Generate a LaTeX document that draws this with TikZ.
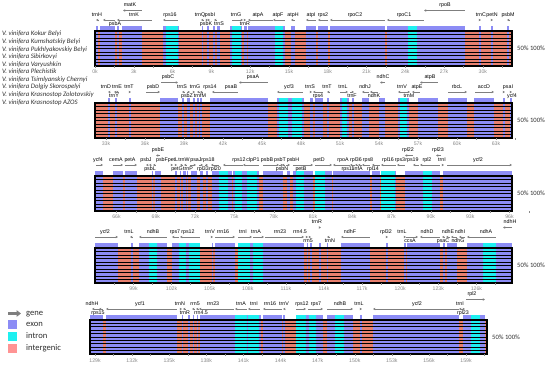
\documentclass[tikz,border=0pt]{standalone}
\usepackage{fontspec}
\setmainfont{Liberation Sans}
\newfontfamily\vistafont{Carlito}
\usetikzlibrary{arrows.meta}
\definecolor{VistaExon}{HTML}{8C8CF5}
\definecolor{VistaIntron}{HTML}{1EF0F0}
\definecolor{VistaGap}{HTML}{E8806E}
\definecolor{VistaGapLight}{HTML}{FF9494}
\definecolor{VistaArrow}{HTML}{7F7F7F}
\definecolor{VistaAxis}{HTML}{8A8A8A}
\definecolor{VistaText}{HTML}{303030}

\begin{document}
\begin{tikzpicture}[x=1pt,y=-1pt,
    genearrow/.style={draw=VistaArrow,line width=0.9pt},
    gfwd/.style={-{Latex[length=2.2pt,width=2.8pt]}},
    grev/.style={{Latex[length=2.2pt,width=2.8pt]}-},
    genelabel/.style={inner sep=0pt,font=\fontsize{5.3}{5.5}\selectfont},
    axislabel/.style={inner sep=0pt,text=VistaAxis,font=\fontsize{5.2}{5.5}\selectfont},
    axistick/.style={draw=VistaAxis,line width=0.4pt},
    rowline/.style={draw=black,line width=0.9pt},
    panelframe/.style={draw=black,line width=1.1pt},
    pctlabel/.style={anchor=west,inner sep=0pt,text=VistaText,font=\vistafont\fontsize{6.6}{7}\selectfont},
    variety/.style={anchor=west,inner sep=0pt,text=VistaText,font=\vistafont\itshape\fontsize{6.8}{7.5}\selectfont},
    legendtext/.style={anchor=west,inner sep=0pt,text=VistaText,font=\vistafont\fontsize{8.6}{9}\selectfont}]
  \useasboundingbox[fill=white] (0,0) rectangle (550,367);

  % cultivar names
  \foreach \g [count=\n] in {Kokur Belyi,Kumshatskiy Belyi,Pukhlyakovskiy Belyi,Sibirkovyi,Varyushkin,Plechistik,Tsimlyanskiy Chernyi,Dolgiy Skorospelyi,Krasnostop Zolotovskiy,Krasnostop AZOS}
    \node[variety] (var\n) at (2,{34+7.6*(\n-1)}) {V. vinifera \g};

  % panel 1
  \begin{scope}[shift={(0,31)}]
    \fill[VistaGap] (95,0) rectangle (512,35);
    \foreach \xa/\xb/\col in {96/97.5/VistaExon,100/115/VistaExon,117.3/118.5/VistaExon,121.7/141.7/VistaExon,163.3/166/VistaExon,166/177.7/VistaIntron,177.7/178.5/VistaExon,201.7/203.3/VistaExon,206.7/209/VistaExon,213.3/215/VistaExon,216.7/220/VistaExon,230/232.3/VistaExon,232.3/240.7/VistaIntron,240.7/242.3/VistaExon,244/246.7/VistaExon,248.3/275/VistaExon,275/283/VistaIntron,283/285/VistaExon,291/295/VistaExon,306/316/VistaExon,318/328/VistaExon,330/385/VistaExon,387/408/VistaExon,408/417/VistaIntron,417/465/VistaExon,479/481/VistaExon,491/493/VistaExon,507/509/VistaExon} {
      \fill[\col] (\xa,0) rectangle (\xb,35);
      \fill[\col] (\xa,-5) rectangle (\xb,0);
    }
    \foreach \r in {1,...,9} \draw[rowline] (95,3.5*\r) -- (512,3.5*\r);
    \draw[panelframe] (95,0) rectangle (512,35);
    \foreach \xa/\xb/\dir/\row/\lx/\name [count=\n] in {96/98/grev/1/97/trnH,103/115/grev/2/115/psbA,123/142/grev/0/130/matK,117/152/grev/1/134/trnK,163/178/grev/1/170/rps16,201/203/grev/1/200/trnQ,206/208/gfwd/2/206/psbK,208/210/gfwd/1/210/psbI,214/216/grev/2/219/trnS,232/243/gfwd/1/236/trnG,244/246/gfwd/2/245/trnR,248/273/grev/1/258/atpA,273/285/grev/1/278/atpF,291/295/grev/1/293/atpH,306/316/grev/1/311/atpI,318/328/grev/1/323/rps2,330/385/grev/1/355/rpoC2,387/424/grev/1/404/rpoC1,424/465/grev/0/445/rpoB,479/481/gfwd/1/481/trnC,491/493/gfwd/1/492/petN,507/509/grev/1/508/psbM} {
      \pgfmathsetmacro\ya{\row==0 ? -20.5 : -11}
      \pgfmathsetmacro\yl{\row==0 ? -26 : (\row==1 ? -16 : -7)}
      \draw[genearrow,\dir] (\xa,\ya) -- (\xb,\ya);
      \node[genelabel] (p1g\n) at (\lx,\yl) {\name};
    }
    \foreach \k in {0,1.5,...,31.5} \draw[axistick] ({95+12.93*\k},35) -- ({95+12.93*\k},37);
    \foreach \k [count=\n] in {0,3,...,30} \node[axislabel] (p1x\n) at ({95+12.93*\k},41) {\k k};
    \node[pctlabel] (p1pct) at (517,17.5) {50\% 100\%};
  \end{scope}

  % panel 2
  \begin{scope}[shift={(0,103)}]
    \fill[VistaGap] (95,0) rectangle (512,35);
    \foreach \xa/\xb/\col in {108/110/VistaExon,115/117.3/VistaExon,129/131/VistaExon,160/178/VistaExon,182/183.5/VistaExon,187/190/VistaExon,193/195/VistaExon,197/198.5/VistaExon,200/202/VistaExon,210/268/VistaExon,277/279/VistaExon,279/288/VistaIntron,288/292/VistaExon,292/302/VistaIntron,302/303.5/VistaExon,310/313/VistaExon,315/323/VistaExon,327/328.5/VistaExon,340/342/VistaExon,342/347/VistaIntron,347/348.5/VistaExon,352/354/VistaExon,362/369/VistaExon,379/385/VistaExon,398/400/VistaExon,400/407/VistaIntron,407/408.5/VistaExon,418/438/VistaExon,448/467/VistaExon,474/494/VistaExon,503/505/VistaExon,510/512/VistaExon} {
      \fill[\col] (\xa,0) rectangle (\xb,35);
      \fill[\col] (\xa,-5) rectangle (\xb,0);
    }
    \foreach \r in {1,...,9} \draw[rowline] (95,3.5*\r) -- (512,3.5*\r);
    \draw[panelframe] (95,0) rectangle (512,35);
    \foreach \xa/\xb/\dir/\row/\lx/\name [count=\n] in {108/110/grev/1/106/trnD,114/116/grev/2/114/trnY,116/118/grev/1/117/trnE,129/131/gfwd/1/129/trnT,146/160/gfwd/1/153/psbD,161/178/gfwd/0/168/psbC,182/184/grev/1/182/trnS,187/190/gfwd/2/187/psbZ,193/195/gfwd/1/195/trnG,197/199/grev/2/200/trnfM,200/203/grev/1/210/rps14,212/238/grev/1/231/psaB,239/268/grev/0/253/psaA,277/303/grev/1/289/ycf3,310/312/gfwd/1/310/trnS,313/323/grev/2/318/rps4,327/329/grev/1/327/trnT,340/348/gfwd/1/343/trnL,350/354/gfwd/2/352/trnF,362/369/grev/1/365/ndhJ,370/378/grev/2/374/ndhK,380/385/grev/0/383/ndhC,398/408/grev/1/402/trnV,407/410/gfwd/2/409/trnM,412/420/grev/1/417/atpE,420/438/grev/0/430/atpB,448/467/gfwd/1/457/rbcL,475/494/gfwd/1/484/accD,503/505/gfwd/1/508/psaI,510/512/gfwd/2/512/ycf4} {
      \pgfmathsetmacro\ya{\row==0 ? -20.5 : -11}
      \pgfmathsetmacro\yl{\row==0 ? -26 : (\row==1 ? -16 : -7)}
      \draw[genearrow,\dir] (\xa,\ya) -- (\xb,\ya);
      \node[genelabel] (p2g\n) at (\lx,\yl) {\name};
    }
    \foreach \k in {33,34.5,...,64.5} \draw[axistick] ({106+13*(\k-33)},35) -- ({106+13*(\k-33)},37);
    \foreach \k [count=\n] in {33,36,...,63} \node[axislabel] (p2x\n) at ({106+13*(\k-33)},41) {\k k};
    \node[pctlabel] (p2pct) at (517,17.5) {50\% 100\%};
  \end{scope}

  % panel 3
  \begin{scope}[shift={(0,176)}]
    \fill[VistaGap] (95,0) rectangle (512,35);
    \foreach \xa/\xb/\col in {95/103.3/VistaExon,112.7/122.7/VistaExon,125/137.3/VistaExon,151.7/153.3/VistaExon,155/161/VistaExon,175/176.7/VistaExon,180/181/VistaExon,183.3/186/VistaExon,187.3/188.3/VistaExon,190.7/196.7/VistaExon,200/203.3/VistaExon,206/208.3/VistaExon,211.7/219.3/VistaExon,219.3/228.3/VistaIntron,228.3/231.7/VistaExon,233.3/235/VistaExon,235/242.3/VistaIntron,242.3/246.7/VistaExon,246.7/256.7/VistaIntron,256.7/259/VistaExon,262.7/283.3/VistaExon,286.7/290/VistaExon,293.3/296/VistaExon,296/304/VistaIntron,304/313.3/VistaExon,315/325/VistaIntron,325/331.7/VistaExon,333.3/370/VistaExon,371.7/380/VistaExon,381/395/VistaIntron,395/396/VistaExon,405/423.3/VistaExon,423.3/431.7/VistaIntron,431.7/440/VistaExon,443.3/512/VistaExon} {
      \fill[\col] (\xa,0) rectangle (\xb,35);
      \fill[\col] (\xa,-5) rectangle (\xb,0);
    }
    \foreach \r in {1,...,9} \draw[rowline] (95,3.5*\r) -- (512,3.5*\r);
    \draw[panelframe] (95,0) rectangle (512,35);
    \foreach \xa/\xb/\dir/\row/\lx/\name [count=\n] in {96/103/gfwd/1/98/ycf4,113/123/gfwd/1/116/cemA,125/137/gfwd/1/130/petA,146/148/grev/1/146/psbJ,149/151/grev/2/150/psbL,153/155/grev/1/162/psbF,156/160/grev/0/158/psbE,171/173/gfwd/1/173/petL,175/177/gfwd/2/177/petG,180/182/grev/1/184/trnW,184/186/grev/2/188/trnP,190/196/gfwd/1/196/psaJ,199/203/gfwd/2/203/rpl33,205/208/gfwd/1/208/rps18,211/219/grev/2/215/rpl20,223/243/grev/1/239/rps12,243/259/grev/1/253/clpP1,263/279/gfwd/1/267/psbB,279/283/gfwd/1/280/psbT,282/284/grev/2/282/psbN,286/290/gfwd/1/293/psbH,293/313/gfwd/2/301/petB,315/332/gfwd/1/319/petD,333/350/grev/1/343/rpoA,350/355/grev/2/348/rps11,355/358/grev/1/356/rpl36,358/362/grev/2/358/infA,362/370/grev/1/368/rps8,372/380/grev/2/373/rpl14,381/396/grev/1/388/rpl16,397/405/grev/1/400/rps3,405/413/grev/0/408/rpl22,413/419/grev/1/412/rps19,420/440/grev/1/427/rpl2,436/441/grev/0/438/rpl23,442/444/gfwd/1/442/trnI,447/512/gfwd/1/478/ycf2} {
      \pgfmathsetmacro\ya{\row==0 ? -20.5 : -11}
      \pgfmathsetmacro\yl{\row==0 ? -26 : (\row==1 ? -16 : -7)}
      \draw[genearrow,\dir] (\xa,\ya) -- (\xb,\ya);
      \node[genelabel] (p3g\n) at (\lx,\yl) {\name};
    }
    \foreach \k in {66,67.5,...,97.5} \draw[axistick] ({116.5+13.1*(\k-66)},35) -- ({116.5+13.1*(\k-66)},37);
    \foreach \k [count=\n] in {66,69,...,96} \node[axislabel] (p3x\n) at ({116.5+13.1*(\k-66)},41) {\k k};
    \node[pctlabel] (p3pct) at (517,17.5) {50\% 100\%};
  \end{scope}

  % panel 4
  \begin{scope}[shift={(0,248)}]
    \fill[VistaGap] (95,0) rectangle (512,35);
    \foreach \xa/\xb/\col in {95/118.3/VistaExon,130.7/132.7/VistaExon,139.3/149.3/VistaExon,149.3/157.3/VistaIntron,157.3/167.3/VistaExon,171.7/179.3/VistaExon,179.3/186/VistaIntron,186/189.3/VistaExon,189.3/200/VistaIntron,211.7/213.3/VistaExon,215/235/VistaExon,238.3/250/VistaIntron,250/252.7/VistaExon,252.7/263.3/VistaIntron,263.3/304/VistaExon,306.7/308.3/VistaExon,310/311.7/VistaExon,319.3/320.7/VistaExon,326.7/328/VistaExon,340.7/370/VistaExon,386/388.3/VistaExon,404/406/VistaExon,407.3/420/VistaExon,420/440/VistaExon,442.7/445/VistaExon,446.7/456.7/VistaExon,466.7/483.3/VistaExon,483.3/496/VistaIntron,496/512/VistaExon} {
      \fill[\col] (\xa,0) rectangle (\xb,35);
      \fill[\col] (\xa,-5) rectangle (\xb,0);
    }
    \foreach \r in {1,...,9} \draw[rowline] (95,3.5*\r) -- (512,3.5*\r);
    \draw[panelframe] (95,0) rectangle (512,35);
    \foreach \xa/\xb/\dir/\row/\lx/\name [count=\n] in {95/118/gfwd/1/105/ycf2,130/133/grev/1/129/trnL,139/167/grev/1/153/ndhB,172/179/grev/1/175/rps7,180/200/grev/1/188/rps12,211/213/gfwd/1/210/trnV,215/235/gfwd/1/223/rrn16,238/252/gfwd/1/243/trnI,253/264/gfwd/1/256/trnA,265/304/gfwd/1/280/rrn23,306/308/gfwd/1/300/rrn4.5,309/311/gfwd/2/308/rrn5,319/321/gfwd/0/317/trnR,327/329/grev/2/330/trnN,341/370/grev/1/350/ndhF,386/388/gfwd/1/386/rpl32,404/406/gfwd/1/402/trnL,406/418/gfwd/2/410/ccsA,420/440/grev/1/427/ndhD,442/445/grev/2/443/psaC,446/450/grev/1/448/ndhE,451/457/grev/2/458/ndhG,459/465/grev/1/460/ndhI,467/496/grev/1/486/ndhA,503/512/grev/0/510/ndhH} {
      \pgfmathsetmacro\ya{\row==0 ? -20.5 : -11}
      \pgfmathsetmacro\yl{\row==0 ? -26 : (\row==1 ? -16 : -7)}
      \draw[genearrow,\dir] (\xa,\ya) -- (\xb,\ya);
      \node[genelabel] (p4g\n) at (\lx,\yl) {\name};
    }
    \foreach \k in {97.5,99,...,127.5} \draw[axistick] ({133.5+12.7*(\k-99)},35) -- ({133.5+12.7*(\k-99)},37);
    \foreach \k [count=\n] in {99,102,...,126} \node[axislabel] (p4x\n) at ({133.5+12.7*(\k-99)},41) {\k k};
    \node[pctlabel] (p4pct) at (517,17.5) {50\% 100\%};
  \end{scope}

  % panel 5
  \begin{scope}[shift={(0,320)}]
    \fill[VistaGap] (90,0) rectangle (487,34);
    \foreach \xa/\xb/\col in {90/103/VistaExon,106/177/VistaExon,181.7/182.7/VistaExon,188.3/190/VistaExon,192.7/194/VistaExon,196.7/198.3/VistaExon,200/235/VistaExon,235/247/VistaIntron,247/248.3/VistaExon,248.3/259.3/VistaIntron,259.3/260.7/VistaExon,263.3/281.7/VistaExon,283.3/285/VistaExon,296/306/VistaIntron,306/309.3/VistaExon,309.3/316/VistaIntron,316/322.7/VistaExon,326.7/335/VistaExon,335/344/VistaIntron,344/353.3/VistaExon,360/361.7/VistaExon,373.3/459.3/VistaExon,463/470.7/VistaExon,470.7/480/VistaIntron,480/485/VistaExon} {
      \fill[\col] (\xa,0) rectangle (\xb,34);
      \fill[\col] (\xa,-5) rectangle (\xb,0);
    }
    \foreach \r in {1,...,9} \draw[rowline] (90,3.4*\r) -- (487,3.4*\r);
    \draw[panelframe] (90,0) rectangle (487,34);
    \foreach \xa/\xb/\dir/\row/\lx/\name [count=\n] in {92/102/grev/1/92/ndhH,99/103/grev/2/98/rps15,106/177/grev/1/140/ycf1,180/182/gfwd/1/180/trnN,183/185/grev/2/185/trnR,192/195/grev/1/195/rrn5,196/198/grev/2/201/rrn4.5,199/234/grev/1/213/rrn23,235/247/grev/1/241/trnA,248/260/grev/1/254/trnI,263/282/grev/1/270/rrn16,283/285/grev/1/284/trnV,296/306/gfwd/1/302/rps12,308/323/gfwd/1/316/rps7,327/353/gfwd/1/340/ndhB,360/362/gfwd/1/359/trnL,373/459/grev/1/417/ycf2,459/462/grev/1/460/trnI,462/465/gfwd/2/463/rpl23,466/485/gfwd/0/472/rpl2} {
      \pgfmathsetmacro\ya{\row==0 ? -20.5 : -11}
      \pgfmathsetmacro\yl{\row==0 ? -26 : (\row==1 ? -16 : -7)}
      \draw[genearrow,\dir] (\xa,\ya) -- (\xb,\ya);
      \node[genelabel] (p5g\n) at (\lx,\yl) {\name};
    }
    \foreach \k in {129,130.5,...,160.5} \draw[axistick] ({95+12.37*(\k-129)},34) -- ({95+12.37*(\k-129)},36);
    \foreach \k [count=\n] in {129,132,...,159} \node[axislabel] (p5x\n) at ({95+12.37*(\k-129)},41) {\k k};
    \node[pctlabel] (p5pct) at (492,17) {50\% 100\%};
  \end{scope}

  % legend
  \draw[VistaArrow,line width=2.6pt,-{Triangle[length=4.5pt,width=6.5pt]}] (8,313.5) -- (21,313.5);
  \node[legendtext] (leggene) at (26,314) {gene};
  \fill[VistaExon] (8,319.5) rectangle (17,328.5);
  \node[legendtext] (legexon) at (26,324) {exon};
  \fill[VistaIntron] (8,331.5) rectangle (17,340.5);
  \node[legendtext] (legintron) at (26,336) {intron};
  \fill[VistaGapLight] (8,343.5) rectangle (17,352.5);
  \node[legendtext] (leginter) at (26,348) {intergenic};
\end{tikzpicture}
\end{document}
